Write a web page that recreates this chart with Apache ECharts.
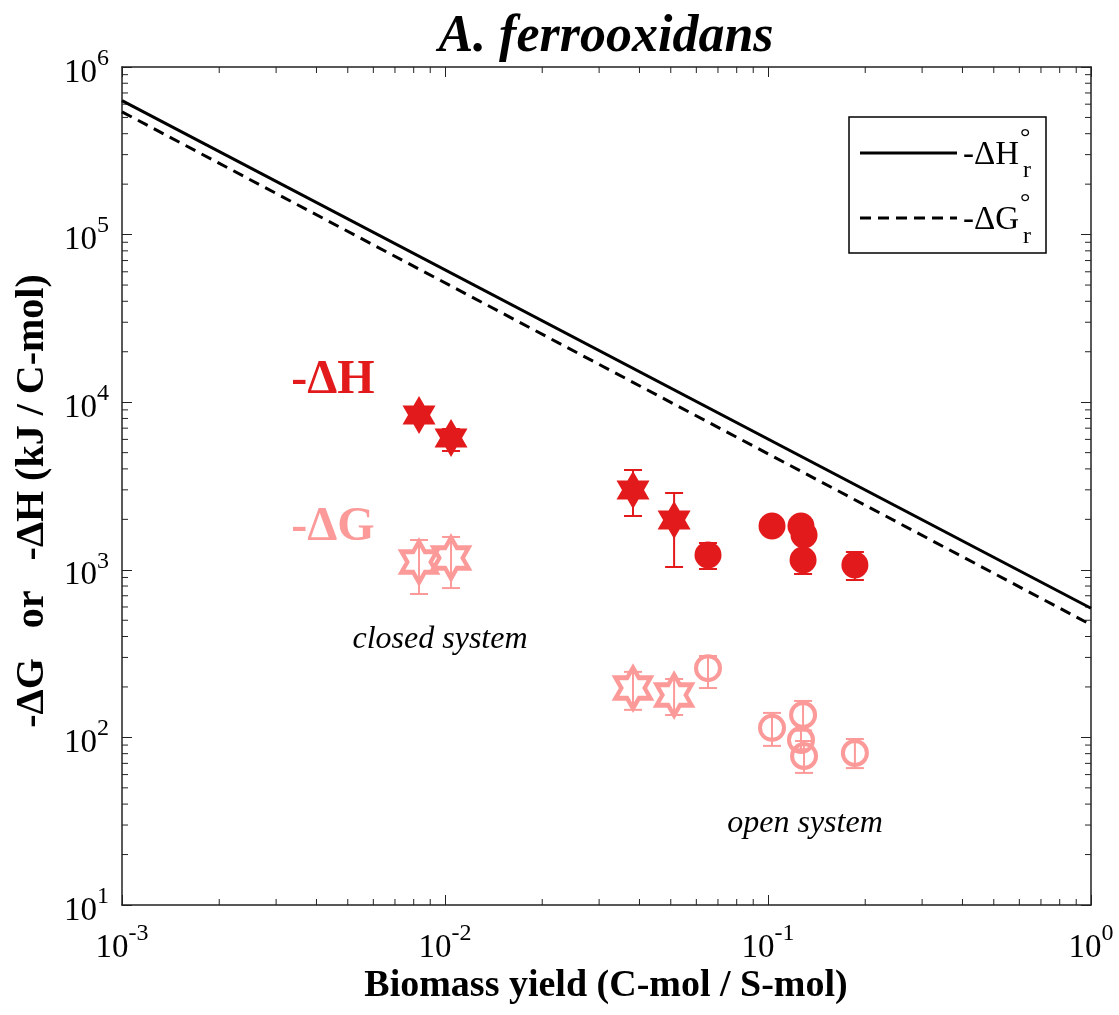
<!DOCTYPE html>
<html><head><meta charset="utf-8">
<script src="https://cdn.jsdelivr.net/npm/echarts@6/dist/echarts.min.js"></script>
<style>html,body{margin:0;padding:0;background:#fff}#c{width:1119px;height:1015px}</style>
</head><body><div id="c"></div>
<script>
// ---- data ----
const xTickExps = ['-3', '-2', '-1', '0'];
const yTickExps = ['1', '2', '3', '4', '5', '6'];

// -ΔH, closed system (filled stars)
const hClosedX  = [0.00831, 0.01044, 0.0382, 0.0512];
const hClosedY  = [8385, 6115, 2992, 1982];
const hClosedLo = [8000, 5117, 2094, 1039];
const hClosedHi = [8800, 6918, 3940, 2872];
// -ΔH, open system (filled circles)
const hOpenX  = [0.0652, 0.1029, 0.1265, 0.1293, 0.1284, 0.1858];
const hOpenY  = [1225, 1825, 1825, 1613, 1144, 1068];
const hOpenLo = [1011, 1760, 1760, 1560, 944, 869];
const hOpenHi = [1445, 1890, 1890, 1670, 1300, 1277];
// -ΔG, closed system (hollow stars)
const gClosedX  = [0.00831, 0.01044, 0.0382, 0.0512];
const gClosedY  = [1113, 1176, 197, 179];
const gClosedLo = [717, 778, 146, 136];
const gClosedHi = [1506, 1570, 246, 223];
// -ΔG, open system (hollow circles)
const gOpenX  = [0.0652, 0.1029, 0.1284, 0.1265, 0.1293, 0.1858];
const gOpenY  = [259, 114, 136, 96.5, 77.4, 80.7];
const gOpenLo = [197, 89, 110, 85, 61.4, 65.6];
const gOpenHi = [306, 140, 165, 110, 95.2, 97.8];
// theoretical lines
const lineX = [0.001, 1];
const lineH = [630000, 590];
const lineG = [540000, 470];

const minorMult = [2, 3, 4, 5, 6, 7, 8, 9];
const xDecades = [0.001, 0.01, 0.1];
const yDecades = [10, 100, 1000, 10000, 100000];

// ---- helpers ----
const DARK = '#E31A1C', PINK = '#FB9A99', AX = '#222222';
const FONT = '"Liberation Serif", "Times New Roman", serif';
const zip2 = (a, b) => a.map((v, i) => [v, b[i]]);
const zip3 = (a, b, c) => a.map((v, i) => [v, b[i], c[i]]);

// hexagram path (point up)
function hexPath() {
  const cx = 86.6, cy = 100, R = 100, r = R / Math.sqrt(3);
  let d = '';
  for (let k = 0; k < 12; k++) {
    const ang = (90 - k * 30) * Math.PI / 180;
    const rad = k % 2 === 0 ? R : r;
    const x = cx + rad * Math.cos(ang), y = cy - rad * Math.sin(ang);
    d += (k === 0 ? 'M' : 'L') + x.toFixed(2) + ' ' + y.toFixed(2) + ' ';
  }
  return 'path://' + d + 'Z';
}
const STAR = hexPath();

function errRender(color) {
  return function (params, api) {
    const x = api.value(0), lo = api.value(1), hi = api.value(2);
    const p1 = api.coord([x, hi]), p2 = api.coord([x, lo]);
    const hw = 9;
    const style = { stroke: color, lineWidth: 2 };
    return { type: 'group', children: [
      { type: 'line', shape: { x1: p1[0], y1: p1[1], x2: p2[0], y2: p2[1] }, style },
      { type: 'line', shape: { x1: p1[0] - hw, y1: p1[1], x2: p1[0] + hw, y2: p1[1] }, style },
      { type: 'line', shape: { x1: p2[0] - hw, y1: p2[1], x2: p2[0] + hw, y2: p2[1] }, style }
    ]};
  };
}

const xMinor = [], yMinor = [];
xDecades.forEach(d => minorMult.forEach(m => xMinor.push([d * m, 10])));
yDecades.forEach(d => minorMult.forEach(m => yMinor.push([0.001, d * m])));

function xMinorRender(params, api) {
  const v = api.value(0);
  const b = api.coord([v, 10]), t = api.coord([v, 1e6]);
  const st = { stroke: AX, lineWidth: 1 };
  return { type: 'group', children: [
    { type: 'line', shape: { x1: b[0], y1: b[1], x2: b[0], y2: b[1] - 6 }, style: st },
    { type: 'line', shape: { x1: t[0], y1: t[1], x2: t[0], y2: t[1] + 6 }, style: st }
  ]};
}
function yMinorRender(params, api) {
  const v = api.value(1);
  const l = api.coord([0.001, v]), r = api.coord([1, v]);
  const st = { stroke: AX, lineWidth: 1 };
  return { type: 'group', children: [
    { type: 'line', shape: { x1: l[0], y1: l[1], x2: l[0] + 6, y2: l[1] }, style: st },
    { type: 'line', shape: { x1: r[0], y1: r[1], x2: r[0] - 6, y2: r[1] }, style: st }
  ]};
}

const richLbl = {
  b: { fontSize: 33, lineHeight: 33, fontFamily: FONT, color: '#000', verticalAlign: 'bottom' },
  s: { fontSize: 24, lineHeight: 24, fontFamily: FONT, color: '#000', verticalAlign: 'bottom', padding: [0, 0, 19, 0] }
};

const axisCommon = {
  type: 'log', logBase: 10,
  axisLine: { show: true, onZero: false, lineStyle: { color: AX, width: 1.5 } },
  axisTick: { show: true, inside: true, length: 10, lineStyle: { color: AX, width: 1 } },
  splitLine: { show: false },
  minorTick: { show: false }
};

const chart = echarts.init(document.getElementById('c'), null, { renderer: 'canvas' });
chart.setOption({
  backgroundColor: '#fff',
  animation: false,
  grid: { left: 122, right: 28, top: 67, bottom: 110, containLabel: false },
  xAxis: [
    Object.assign({}, axisCommon, { min: 0.001, max: 1, position: 'bottom',
      axisLabel: { margin: 27, formatter: (v, i) => '{b|10}{s|' + xTickExps[i] + '}', rich: richLbl } }),
    Object.assign({}, axisCommon, { min: 0.001, max: 1, position: 'top', axisLabel: { show: false } })
  ],
  yAxis: [
    Object.assign({}, axisCommon, { min: 10, max: 1e6, position: 'left',
      axisLabel: { margin: 13, padding: [12, 0, 0, 0], formatter: (v, i) => '{b|10}{s|' + yTickExps[i] + '}', rich: richLbl } }),
    Object.assign({}, axisCommon, { min: 10, max: 1e6, position: 'right', axisLabel: { show: false } })
  ],
  series: [
    { type: 'custom', renderItem: xMinorRender, data: xMinor, silent: true, z: 1 },
    { type: 'custom', renderItem: yMinorRender, data: yMinor, silent: true, z: 1 },
    { type: 'line', data: zip2(lineX, lineH), symbol: 'none', lineStyle: { color: '#000', width: 3 }, z: 2 },
    { type: 'line', data: zip2(lineX, lineG), symbol: 'none', lineStyle: { color: '#000', width: 3, type: [11, 7] }, z: 2 },
    { type: 'custom', renderItem: errRender(PINK), data: zip3(gClosedX, gClosedLo, gClosedHi), encode: { x: 0, y: [1, 2] }, z: 3 },
    { type: 'custom', renderItem: errRender(PINK), data: zip3(gOpenX, gOpenLo, gOpenHi), encode: { x: 0, y: [1, 2] }, z: 3 },
    { type: 'custom', renderItem: errRender(DARK), data: zip3(hClosedX, hClosedLo, hClosedHi), encode: { x: 0, y: [1, 2] }, z: 3 },
    { type: 'custom', renderItem: errRender(DARK), data: zip3(hOpenX, hOpenLo, hOpenHi), encode: { x: 0, y: [1, 2] }, z: 3 },
    { type: 'scatter', data: zip2(gClosedX, gClosedY), symbol: STAR, symbolSize: [35, 41],
      itemStyle: { color: 'rgba(0,0,0,0)', borderColor: PINK, borderWidth: 4.5, opacity: 1 }, z: 4 },
    { type: 'scatter', data: zip2(gOpenX, gOpenY), symbol: 'circle', symbolSize: 24,
      itemStyle: { color: 'rgba(0,0,0,0)', borderColor: PINK, borderWidth: 4, opacity: 1 }, z: 4 },
    { type: 'scatter', data: zip2(hClosedX, hClosedY), symbol: STAR, symbolSize: [33, 38],
      itemStyle: { color: DARK, opacity: 1 }, z: 5 },
    { type: 'scatter', data: zip2(hOpenX, hOpenY), symbol: 'circle', symbolSize: 27,
      itemStyle: { color: DARK, opacity: 1 }, z: 5 }
  ],
  graphic: [
    { type: 'text', x: 606, y: 38, style: { text: 'A. ferrooxidans', fontSize: 52, fontWeight: 'bold', fontStyle: 'italic', fontFamily: FONT, fill: '#000', align: 'center', verticalAlign: 'middle' } },
    { type: 'text', x: 33, y: 501, rotation: Math.PI / 2, style: { text: '-ΔG   or   -ΔH (kJ / C-mol)', fontSize: 40, fontWeight: 'bold', fontFamily: FONT, fill: '#000', align: 'center', verticalAlign: 'middle' } },
    { type: 'text', x: 606, y: 986, style: { text: 'Biomass yield (C-mol / S-mol)', fontSize: 38, fontWeight: 'bold', fontFamily: FONT, fill: '#000', align: 'center', verticalAlign: 'middle' } },
    { type: 'text', x: 333, y: 381, style: { text: '-ΔH', fontSize: 48, fontWeight: 'bold', fontFamily: FONT, fill: DARK, align: 'center', verticalAlign: 'middle' } },
    { type: 'text', x: 333, y: 528, style: { text: '-ΔG', fontSize: 48, fontWeight: 'bold', fontFamily: FONT, fill: PINK, align: 'center', verticalAlign: 'middle' } },
    { type: 'text', x: 440, y: 640, style: { text: 'closed system', fontSize: 32, fontStyle: 'italic', fontFamily: FONT, fill: '#000', align: 'center', verticalAlign: 'middle' } },
    { type: 'text', x: 805, y: 824, style: { text: 'open system', fontSize: 32, fontStyle: 'italic', fontFamily: FONT, fill: '#000', align: 'center', verticalAlign: 'middle' } },
    // legend
    { type: 'rect', shape: { x: 849, y: 117, width: 197, height: 136 }, style: { fill: '#fff', stroke: '#000', lineWidth: 1.5 }, z: 10 },
    { type: 'line', shape: { x1: 860, y1: 153, x2: 957, y2: 153 }, style: { stroke: '#000', lineWidth: 3 }, z: 11 },
    { type: 'line', shape: { x1: 860, y1: 218, x2: 957, y2: 218 }, style: { stroke: '#000', lineWidth: 3, lineDash: [11, 7] }, z: 11 },
    { type: 'text', x: 963, y: 155, style: { text: '-ΔH', fontSize: 33, fontFamily: FONT, fill: '#000', align: 'left', verticalAlign: 'middle' }, z: 11 },
    { type: 'text', x: 1020, y: 138, style: { text: '°', fontSize: 26, fontFamily: FONT, fill: '#000', align: 'left', verticalAlign: 'middle' }, z: 11 },
    { type: 'text', x: 1023, y: 171, style: { text: 'r', fontSize: 24, fontFamily: FONT, fill: '#000', align: 'left', verticalAlign: 'middle' }, z: 11 },
    { type: 'text', x: 963, y: 220, style: { text: '-ΔG', fontSize: 33, fontFamily: FONT, fill: '#000', align: 'left', verticalAlign: 'middle' }, z: 11 },
    { type: 'text', x: 1020, y: 203, style: { text: '°', fontSize: 26, fontFamily: FONT, fill: '#000', align: 'left', verticalAlign: 'middle' }, z: 11 },
    { type: 'text', x: 1023, y: 237, style: { text: 'r', fontSize: 24, fontFamily: FONT, fill: '#000', align: 'left', verticalAlign: 'middle' }, z: 11 }
  ]
});
</script>
</body></html>
